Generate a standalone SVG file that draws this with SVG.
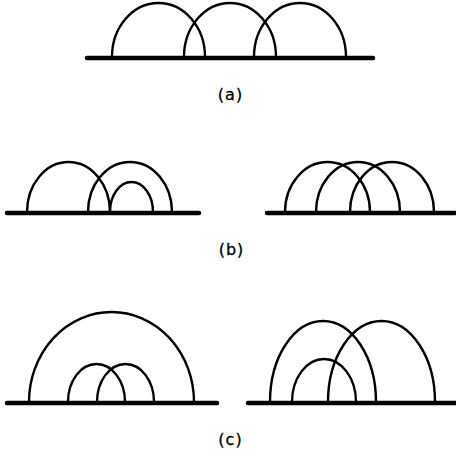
<svg xmlns="http://www.w3.org/2000/svg" width="456" height="456" viewBox="0 0 456 456">
<style>
.arc{fill:none;stroke:#000;stroke-width:2.4}
.base{stroke:#000;stroke-width:4.5;stroke-linecap:round}
.lbl{font-family:"DejaVu Sans","Liberation Sans",sans-serif;font-size:16px;letter-spacing:1px;text-anchor:middle;fill:#000;stroke:#000;stroke-width:0.3}
</style>
<rect width="456" height="456" fill="#fff"/>
<g id="connectors">
<path class="arc" d="M112 57 A46.5 54 0 0 1 205 57"/>
<path class="arc" d="M184 57 A46 54 0 0 1 276 57"/>
<path class="arc" d="M254 57 A46 54 0 0 1 346 57"/>
<path class="arc" d="M27 212 A41.5 50 0 0 1 110 212"/>
<path class="arc" d="M88 212 A42 50 0 0 1 172 212"/>
<path class="arc" d="M110 212 A21.5 30 0 0 1 153 212"/>
<path class="arc" d="M285 212 A42.5 50 0 0 1 370 212"/>
<path class="arc" d="M316 212 A42 50 0 0 1 400 212"/>
<path class="arc" d="M350 212 A42 50 0 0 1 434 212"/>
<path class="arc" d="M29 402 A82.5 90 0 0 1 194 402"/>
<path class="arc" d="M68 402 A28.5 38 0 0 1 125 402"/>
<path class="arc" d="M97 402 A28.5 38 0 0 1 154 402"/>
<path class="arc" d="M270 402 A53 81 0 0 1 376 402"/>
<path class="arc" d="M328 402 A53.5 81 0 0 1 435 402"/>
<path class="arc" d="M292 402 A32 43 0 0 1 356 402"/>
</g>
<g id="baseline-a"><line class="base" x1="87" y1="58" x2="373" y2="58"/></g>
<g id="baseline-b1"><line class="base" x1="7" y1="213" x2="199" y2="213"/></g>
<g id="baseline-b2"><line class="base" x1="267" y1="213" x2="455" y2="213"/></g>
<g id="baseline-c1"><line class="base" x1="7" y1="403" x2="217" y2="403"/></g>
<g id="baseline-c2"><line class="base" x1="248" y1="403" x2="456" y2="403"/></g>
<g id="label-a"><text class="lbl" x="230.5" y="100">(a)</text></g>
<g id="label-b"><text class="lbl" x="231.5" y="255">(b)</text></g>
<g id="label-c"><text class="lbl" x="230.5" y="445">(c)</text></g>
</svg>
